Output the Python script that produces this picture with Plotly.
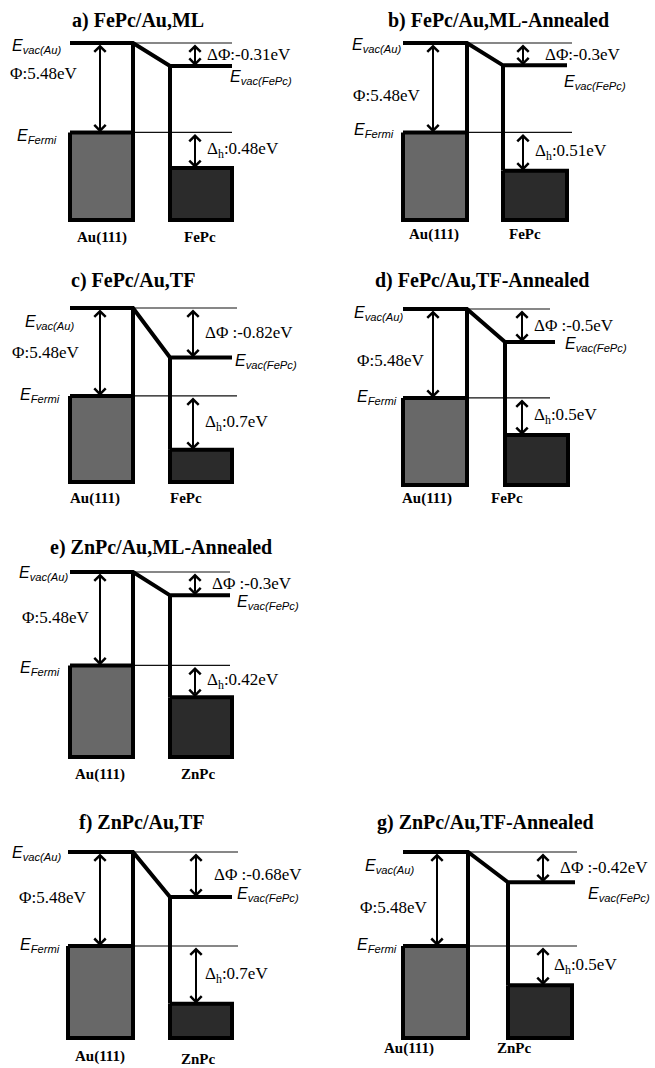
import plotly.graph_objects as go

# ---------------- data ----------------
titles = ["a) FePc/Au,ML", "b) FePc/Au,ML-Annealed", "c) FePc/Au,TF",
          "d) FePc/Au,TF-Annealed", "e) ZnPc/Au,ML-Annealed", "f) ZnPc/Au,TF",
          "g) ZnPc/Au,TF-Annealed"]
substrates = ["Au(111)"] * 7
molecules = ["FePc", "FePc", "FePc", "FePc", "ZnPc", "ZnPc", "ZnPc"]
work_function_eV = [5.48, 5.48, 5.48, 5.48, 5.48, 5.48, 5.48]
delta_phi_eV = [-0.31, -0.3, -0.82, -0.5, -0.3, -0.68, -0.42]
delta_h_eV = [0.48, 0.51, 0.7, 0.5, 0.42, 0.7, 0.5]

# ---------------- schematic energy scale (diagram is not to scale) ----------------
K_PHI = 16.4                       # diagram units per eV for the work function
DPHI_OFFSET, DPHI_GAIN = 6.3, 53.9  # vacuum-level shift drawing
DH_OFFSET, DH_GAIN = -6.6, 88.2     # hole-injection barrier drawing
BOX_DEPTH = 88                     # band box depth below Fermi level

# ---------------- page layout ----------------
W, H = 655, 1068
COLS = [(0, 330), (330, 655)]
SERIF = "Liberation Serif"
SANS = "Liberation Sans"
AU_FILL = "#686868"
MOL_FILL = "#2b2b2b"

# per-panel layout (pixels; x local to the column)
PANELS = [
    dict(col=0, dom=(0, 250), vac=43, bottom=220, au0=70, au1=133, mol0=170, mol1=232, vm_end=232,
         thin_end=232, phi_x=100, arr_x=195, title=(138, 20), evac_au=(10, 3), phi=(8, 73),
         efermi=(15, 4), dphi_x=205, sep=":", evac_mol=(228, 12), dh_x=205, sub=(102, 237), mol=(200, 237)),
    dict(col=1, dom=(0, 250), vac=43, bottom=220, au0=73, au1=137, mol0=173, mol1=237, vm_end=237,
         thin_end=242, phi_x=103, arr_x=193, title=(169, 20), evac_au=(20, 2), phi=(21, 95),
         efermi=(22, -2), dphi_x=213, sep=":", evac_mol=(232, 17), dh_x=203, sub=(104, 234), mol=(195, 234)),
    dict(col=0, dom=(258, 515), vac=308, bottom=482, au0=70, au1=133, mol0=170, mol1=232, vm_end=232,
         thin_end=237, phi_x=100, arr_x=193, title=(133, 280), evac_au=(23, 14), phi=(10, 352),
         efermi=(18, 0), dphi_x=203, sep=" :", evac_mol=(233, 4), dh_x=203, sub=(95, 498), mol=(186, 498)),
    dict(col=1, dom=(258, 515), vac=309, bottom=485, au0=73, au1=137, mol0=175, mol1=238, vm_end=225,
         thin_end=220, phi_x=103, arr_x=192, title=(152, 280), evac_au=(22, 4), phi=(25, 360),
         efermi=(25, 0), dphi_x=202, sep=" :", evac_mol=(233, 3), dh_x=202, sub=(97, 498), mol=(177, 498)),
    dict(col=0, dom=(525, 790), vac=572, bottom=757, au0=70, au1=133, mol0=170, mol1=232, vm_end=230,
         thin_end=230, phi_x=100, arr_x=195, title=(161, 547), evac_au=(17, 1), phi=(20, 617),
         efermi=(18, 3), dphi_x=210, sep=" :", evac_mol=(235, 7), dh_x=205, sub=(100, 774), mol=(198, 774)),
    dict(col=0, dom=(800, 1068), vac=852, bottom=1038, au0=68, au1=133, mol0=170, mol1=232, vm_end=232,
         thin_end=238, phi_x=100, arr_x=196, title=(142, 822), evac_au=(10, 1), phi=(17, 897),
         efermi=(18, 0), dphi_x=212, sep=" :", evac_mol=(235, -2), dh_x=203, sub=(100, 1056), mol=(198, 1059)),
    dict(col=1, dom=(800, 1068), vac=852, bottom=1038, au0=73, au1=138, mol0=178, mol1=242, vm_end=245,
         thin_end=247, phi_x=107, arr_x=213, title=(156, 822), evac_au=(33, 14), phi=(28, 907),
         efermi=(25, 0), dphi_x=228, sep=" :", evac_mol=(256, 12), dh_x=222, sub=(79, 1048), mol=(184, 1048)),
]

fig = go.Figure()
annotations = []


def fmt(v):
    return "{:g}".format(v)


for i, P in enumerate(PANELS):
    n = "" if i == 0 else str(i + 1)
    xr, yr = "x" + n, "y" + n
    # energy levels in schematic units (vacuum level of Au = 0)
    e_vac = 0.0
    e_fermi = -work_function_eV[i] * K_PHI
    e_vac_mol = -(DPHI_OFFSET + DPHI_GAIN * abs(delta_phi_eV[i]))
    e_homo = e_fermi - (DH_OFFSET + DH_GAIN * delta_h_eV[i])
    e_bottom = e_fermi - BOX_DEPTH

    # axis mapping: vacuum level -> P['vac'] px, box bottom -> P['bottom'] px
    s = (P["bottom"] - P["vac"]) / (e_vac - e_bottom)   # px per unit
    top_px, bot_px = P["dom"]
    y_top = (P["vac"] - top_px) / s
    y_bot = -(bot_px - P["vac"]) / s

    def U(py, P=P, s=s):
        return (P["vac"] - py) / s

    c0, c1 = COLS[P["col"]]
    fig.update_layout(**{
        ("xaxis" + n): dict(domain=[c0 / W, c1 / W], range=[0, c1 - c0], visible=False,
                            fixedrange=True, anchor=yr),
        ("yaxis" + n): dict(domain=[1 - bot_px / H, 1 - top_px / H], range=[y_bot, y_top],
                            visible=False, fixedrange=True, anchor=xr),
    })

    line_k = dict(color="black", width=4)
    thin = dict(color="#111111", width=1.2)
    # thin reference lines
    for lev in (e_vac, e_fermi):
        fig.add_trace(go.Scatter(x=[P["au1"], P["thin_end"]], y=[lev, lev], mode="lines",
                                 line=thin, xaxis=xr, yaxis=yr, hoverinfo="skip"))
    # boxes
    fig.add_trace(go.Scatter(x=[P["au0"], P["au1"], P["au1"], P["au0"], P["au0"]],
                             y=[e_fermi, e_fermi, e_bottom, e_bottom, e_fermi],
                             mode="lines", fill="toself", fillcolor=AU_FILL, line=line_k,
                             xaxis=xr, yaxis=yr, hoverinfo="skip"))
    fig.add_trace(go.Scatter(x=[P["mol0"], P["mol1"], P["mol1"], P["mol0"], P["mol0"]],
                             y=[e_homo, e_homo, e_bottom, e_bottom, e_homo],
                             mode="lines", fill="toself", fillcolor=MOL_FILL, line=line_k,
                             xaxis=xr, yaxis=yr, hoverinfo="skip"))
    # vacuum level path and vertical interface lines
    fig.add_trace(go.Scatter(x=[P["au0"], P["au1"], P["mol0"], P["vm_end"]],
                             y=[e_vac, e_vac, e_vac_mol, e_vac_mol], mode="lines",
                             line=line_k, xaxis=xr, yaxis=yr, hoverinfo="skip"))
    fig.add_trace(go.Scatter(x=[P["au1"], P["au1"]], y=[e_vac, e_fermi], mode="lines",
                             line=line_k, xaxis=xr, yaxis=yr, hoverinfo="skip"))
    fig.add_trace(go.Scatter(x=[P["mol0"], P["mol0"]], y=[e_vac_mol, e_homo], mode="lines",
                             line=line_k, xaxis=xr, yaxis=yr, hoverinfo="skip"))

    # double arrows
    for ax_x, ya, yb in ((P["phi_x"], e_vac, e_fermi), (P["arr_x"], e_vac, e_vac_mol),
                         (P["arr_x"], e_fermi, e_homo)):
        annotations.append(dict(x=ax_x, y=yb, ax=ax_x, ay=ya, xref=xr, yref=yr, axref=xr, ayref=yr,
                                text="", showarrow=True, arrowside="end+start", arrowhead=4,
                                startarrowhead=4, arrowsize=1.1, startarrowsize=1.1, arrowwidth=2,
                                arrowcolor="black", standoff=0, startstandoff=0))

    def txt(x, y, text, size, family, xanchor="left", bold=False, color="black"):
        annotations.append(dict(x=x, y=y, xref=xr, yref=yr, text=text, showarrow=False,
                                xanchor=xanchor, yanchor="middle",
                                font=dict(size=size, family=family, color=color,
                                          weight="bold" if bold else "normal")))

    txt(P["title"][0], U(P["title"][1]), titles[i], 20, SERIF, "center", bold=True)
    txt(P["evac_au"][0], U(P["vac"] + P["evac_au"][1]), "<i>E<sub>vac(Au)</sub></i>", 16, SANS)
    txt(P["phi"][0], U(P["phi"][1]), "Φ:" + fmt(work_function_eV[i]) + "eV", 17, SERIF)
    txt(P["efermi"][0], e_fermi + (-P["efermi"][1]) / s, "<i>E<sub>Fermi</sub></i>", 16, SANS)
    txt(P["dphi_x"], (e_vac + e_vac_mol) / 2, "ΔΦ" + P["sep"] + fmt(delta_phi_eV[i]) + "eV", 17, SERIF)
    txt(P["evac_mol"][0], e_vac_mol - P["evac_mol"][1] / s, "<i>E<sub>vac(FePc)</sub></i>", 16, SANS)
    txt(P["dh_x"], (e_fermi + e_homo) / 2, "Δ<sub>h</sub>:" + fmt(delta_h_eV[i]) + "eV", 17, SERIF)
    txt(P["sub"][0], U(P["sub"][1]), substrates[i], 15, SERIF, "center", bold=True)
    txt(P["mol"][0], U(P["mol"][1]), molecules[i], 15, SERIF, "center", bold=True)

fig.update_layout(width=W, height=H, margin=dict(l=0, r=0, t=0, b=0), showlegend=False,
                  paper_bgcolor="white", plot_bgcolor="white", annotations=annotations)
fig.write_html("out.html")
